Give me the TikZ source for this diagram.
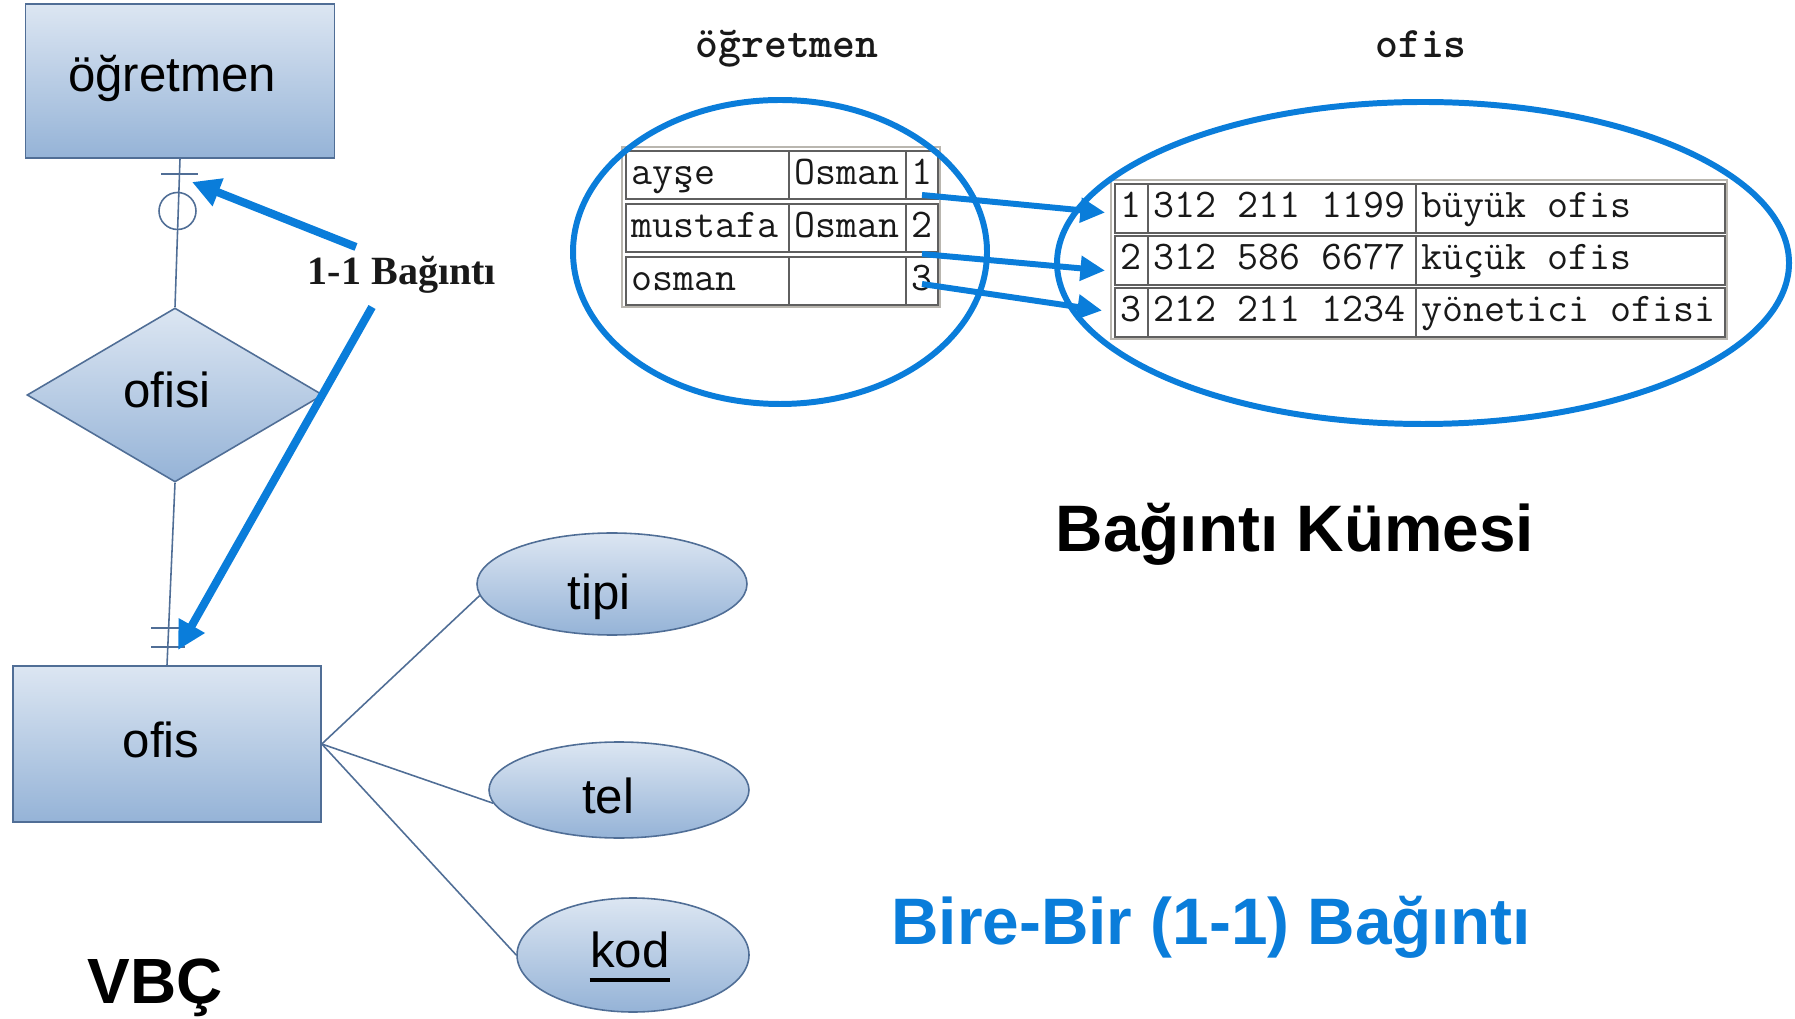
\documentclass[tikz,border=0pt]{standalone}
\usepackage{fontspec}
\setmainfont{Liberation Sans}
\newfontfamily\notefont{Liberation Serif}
\usetikzlibrary{shapes.geometric,arrows.meta,calc}

\definecolor{erborder}{RGB}{80,110,150}
\definecolor{ertop}{RGB}{220,230,242}
\definecolor{erbottom}{RGB}{149,179,215}
\definecolor{hl}{RGB}{10,125,218}
\definecolor{cellline}{RGB}{95,95,95}
\definecolor{frameline}{RGB}{185,182,175}
\definecolor{ink}{RGB}{25,25,25}

% one table cell: name, left x, top y, width, height, text
\newcommand\tablecell[6]{%
  \node[cellbox, anchor=north west, minimum width=#4*0.1mm, minimum height=#5*0.1mm] (#1) at (#2,#3) {};
  \node[celltext, anchor=base west] (#1t) at ($(#1.north west)+(6,35)$) {#6};
}

\begin{document}
\begin{tikzpicture}[x=0.1mm,y=-0.1mm,
  erbase/.style={draw=erborder, line width=0.45pt, top color=ertop, bottom color=erbottom, inner sep=0pt},
  entity/.style={erbase, rectangle},
  relation/.style={erbase, diamond},
  attr/.style={erbase, ellipse},
  erlabel/.style={inner sep=0pt, anchor=base, font=\fontsize{14pt}{16pt}\selectfont},
  erline/.style={draw=erborder, line width=0.45pt},
  setring/.style={draw=hl, line width=1.7pt, ellipse, inner sep=0pt},
  pointer/.style={draw=hl, line width=2.3pt, -{Triangle[length=8pt,width=8pt]}},
  mapto/.style={draw=hl, line width=1.7pt, -{Triangle[length=7pt,width=6.8pt]}},
  cellbox/.style={draw=cellline, line width=0.6pt, rectangle, inner sep=0pt},
  celltext/.style={inner sep=0pt, text=ink, font=\ttfamily\fontsize{11.6pt}{13pt}\selectfont},
  settitle/.style={inner sep=0pt, text=ink, font=\ttfamily\bfseries\fontsize{12.4pt}{14pt}\selectfont},
  bigtext/.style={inner sep=0pt, font=\bfseries\fontsize{18.7pt}{21pt}\selectfont},
]
\useasboundingbox (0,0) rectangle (1795,1019);

% ---------------- ER diagram ----------------
\node[entity, minimum width=30.9mm, minimum height=15.4mm] (ogr) at (180,81) {};
\node[relation, minimum width=29.6mm, minimum height=17.4mm] (rel) at (175,395) {};
\node[entity, minimum width=30.8mm, minimum height=15.6mm] (ofis) at (167,744) {};
\node[attr, minimum width=27mm, minimum height=10.2mm] (tipi) at (612,584) {};
\node[attr, minimum width=26mm, minimum height=9.6mm] (tel) at (619,790) {};
\node[attr, minimum width=23.2mm, minimum height=11.4mm] (kod) at (633,955) {};

\node[erlabel] (ogrT) at (172,92) {öğretmen};
\node[erlabel] (relT) at (167,408) {ofisi};
\node[erlabel] (ofisT) at (161,757) {ofis};
\node[erlabel] (tipiT) at (599,610) {tipi};
\node[erlabel] (telT) at (608,813) {tel};
\node[erlabel] (kodT) at (630,967) {kod};
\draw[line width=0.9pt] ($(kodT.base west)+(0,13)$) -- ($(kodT.base east)+(0,13)$);

\draw[erline] (ogr.south) -- (rel.north);
\draw[erline] (rel.south) -- (ofis.north);
\draw[erline] (ofis.east) -- (tipi.185);
\draw[erline] (ofis.east) -- (tel.186);
\draw[erline] (ofis.east) -- (kod.west);

% cardinality marks: zero-or-one at the teacher side, exactly one at the office side
\draw[erline] (161,174) -- (198,174);
\draw[erline] (177.5,211) circle[radius=1.85mm];
\draw[erline] (151,628) -- (185,628);
\draw[erline] (151,647) -- (185,647);

% annotation
\node[inner sep=0pt, anchor=base, text=ink, font=\notefont\bfseries\fontsize{11.4pt}{13pt}\selectfont] (lbl) at (402,285) {1-1 Bağıntı};
\coordinate (p1) at (356,247);
\coordinate (p1t) at (192,182);
\coordinate (p2) at (372,307);
\coordinate (p2t) at (178,650);
\draw[pointer] (p1) -- (p1t);
\draw[pointer] (p2) -- (p2t);

\node[anchor=base, inner sep=0pt, font=\bfseries\fontsize{18.2pt}{20pt}\selectfont] (vbc) at (155,1003) {VBÇ};

% ---------------- relationship set ----------------
\node[settitle, anchor=base] (ttlA) at (787,58) {öğretmen};
\node[settitle, anchor=base] (ttlB) at (1421,58) {ofis};

% teacher table
\draw[frameline, line width=0.8pt] (622,147) rectangle (940,307);
\tablecell{a11}{625}{150}{163}{48}{ayşe}
\tablecell{a12}{788}{150}{117}{48}{Osman}
\tablecell{a13}{905}{150}{32}{48}{1}
\tablecell{a21}{625}{203}{163}{48}{mustafa}
\tablecell{a22}{788}{203}{117}{48}{Osman}
\tablecell{a23}{905}{203}{32}{48}{2}
\tablecell{a31}{625}{256}{163}{48}{osman}
\tablecell{a32}{788}{256}{117}{48}{}
\tablecell{a33}{905}{256}{32}{48}{3}

% office table
\draw[frameline, line width=0.8pt] (1111,180) rectangle (1727,339);
\tablecell{b11}{1114}{183}{33}{49}{1}
\tablecell{b12}{1147}{183}{268}{49}{312 211 1199}
\tablecell{b13}{1415}{183}{309}{49}{büyük ofis}
\tablecell{b21}{1114}{235}{33}{49}{2}
\tablecell{b22}{1147}{235}{268}{49}{312 586 6677}
\tablecell{b23}{1415}{235}{309}{49}{küçük ofis}
\tablecell{b31}{1114}{287}{33}{49}{3}
\tablecell{b32}{1147}{287}{268}{49}{212 211 1234}
\tablecell{b33}{1415}{287}{309}{49}{yönetici ofisi}

% the two sets
\node[setring, minimum width=41.4mm, minimum height=30.4mm] (setA) at (780,252) {};
\node[setring, minimum width=73.2mm, minimum height=32.2mm] (setB) at (1423,263) {};

% pairing arrows
\coordinate (m1) at (922,195);
\coordinate (m2) at (922,254);
\coordinate (m3) at (922,284);
\draw[mapto] (m1) -- ($(b11.west)+(-9,4)$);
\draw[mapto] (m2) -- ($(b21.west)+(-9,10)$);
\draw[mapto] (m3) -- ($(b31.west)+(-12,-2)$);

\node[bigtext, anchor=base] (kume) at (1295,552) {Bağıntı Kümesi};
\node[bigtext, anchor=base, text=hl] (bire) at (1211,944) {Bire-Bir (1-1) Bağıntı};
\end{tikzpicture}
\end{document}
